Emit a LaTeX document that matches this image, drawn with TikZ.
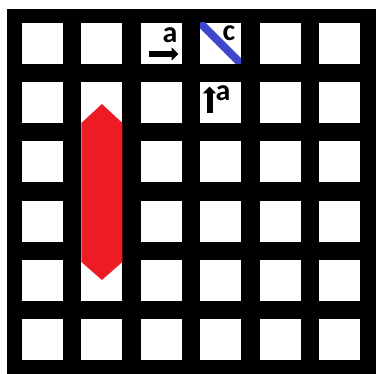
\documentclass[tikz,border=0pt]{standalone}
\usepackage{fontspec}
\setmainfont{Carlito}
\usetikzlibrary{arrows.meta}
\definecolor{paintred}{RGB}{237,28,36}
\definecolor{paintblue}{RGB}{63,72,204}
\tikzset{
  cell/.style={fill=white},
  arr/.style={line width=6pt,-{Triangle[length=7pt,width=13pt]}},
  lbl/.style={anchor=base,inner sep=0pt,font=\fontsize{30}{30}\selectfont\bfseries}
}
\begin{document}
\begin{tikzpicture}[x=1pt,y=-1pt]
  \useasboundingbox (0,0) rectangle (376,374);
  \fill[black] (7,9) rectangle (376,374);
  \foreach \i in {0,...,5} \foreach \j in {0,...,5}
    \fill[cell] ({22+59.4*\i},{23+59.2*\j}) rectangle +(41,41);
  \fill[cell] (81.4,82.2) rectangle (122.4,300.8);
  \fill[paintred] (81.4,123) -- (101.9,104) -- (122.4,123) -- (122.4,262) -- (101.9,280) -- (81.4,262) -- cycle;
  \begin{scope}
    \clip (200.2,23) rectangle +(41,41);
    \draw[paintblue,line width=8pt] (200.2,23) -- (241.2,64);
  \end{scope}
  \coordinate (r0) at (149,54); \coordinate (r1) at (178.5,54);
  \coordinate (u0) at (209.5,113); \coordinate (u1) at (209.5,86.5);
  \draw[arr] (r0) -- (r1);
  \draw[arr] (u0) -- (u1);
  \node[lbl] (a1) at (170,43) {a};
  \node[lbl] (a2) at (223,101) {a};
  \node[lbl] (c1) at (229,41) {c};
\end{tikzpicture}
\end{document}
